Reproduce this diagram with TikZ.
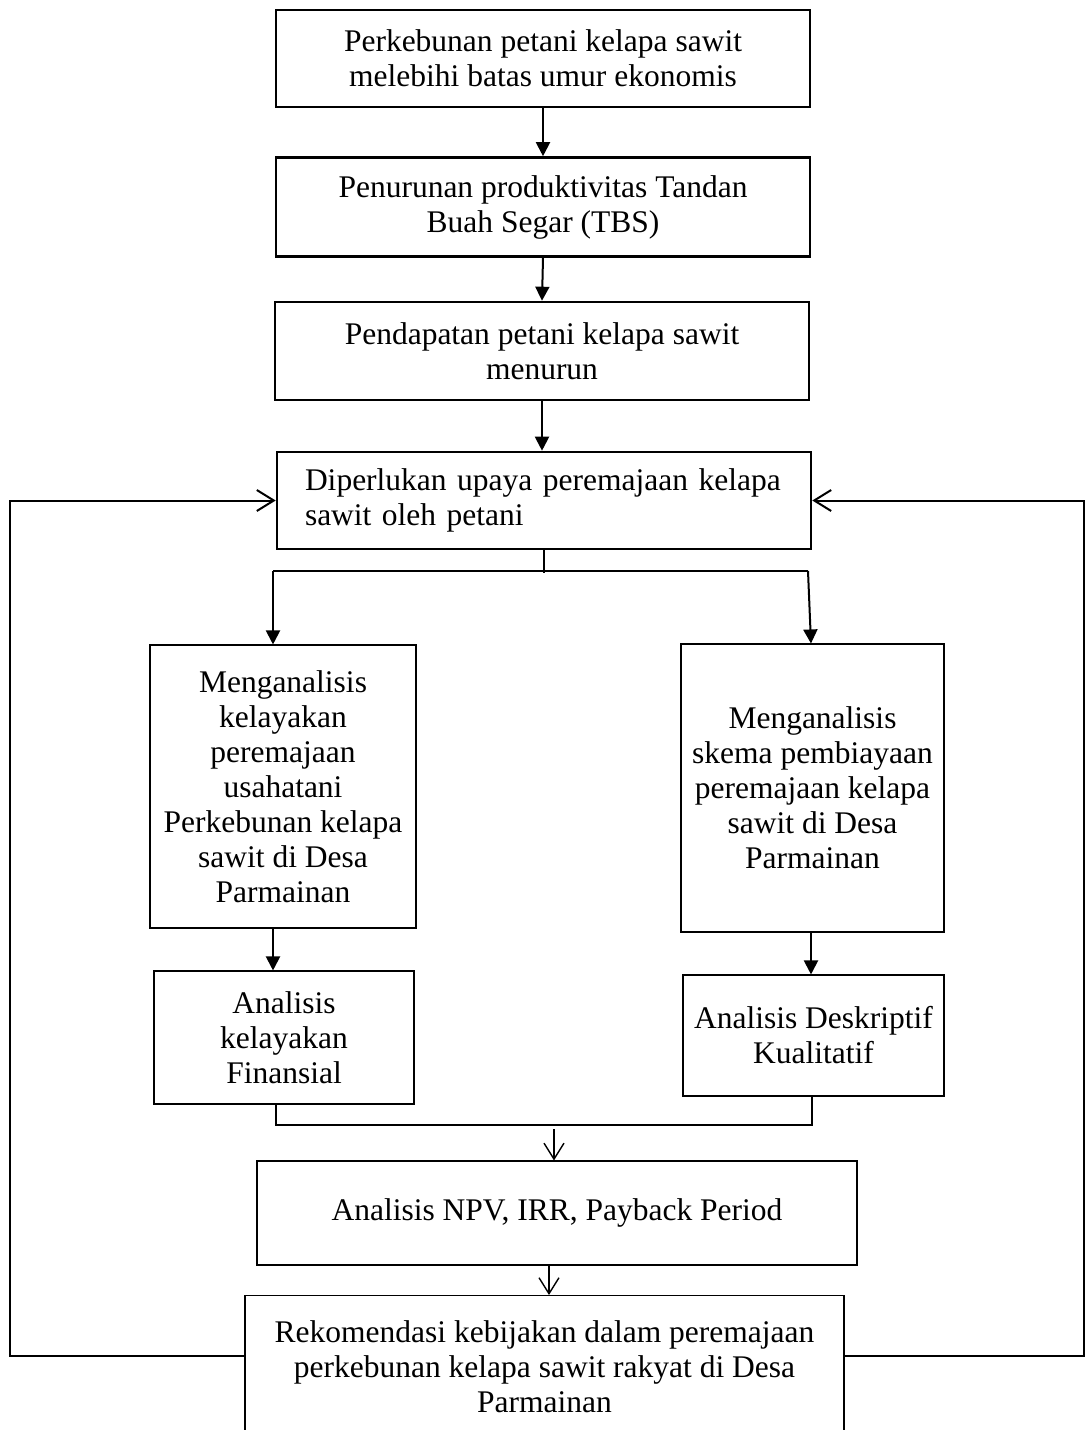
\documentclass[tikz,border=0pt]{standalone}
\usepackage{fontspec}
\setmainfont{Liberation Serif}
\usetikzlibrary{arrows.meta}
\begin{document}
\begin{tikzpicture}[x=1pt,y=-1pt,
  every node/.style={font=\fontsize{31.5}{35}\selectfont},
  topbox/.style={draw, line width=2.6pt, inner sep=0pt, align=center},
  lowbox/.style={draw, line width=1.1pt, inner sep=0pt, align=center},
  farrow/.style={line width=2pt, -{Triangle[length=14pt,width=14pt]}},
  oarrow/.style={line width=2pt, -{Straight Barb[length=17pt,width=21pt,line width=2pt]}},
  thinarrow/.style={line width=1.4pt, -{Straight Barb[length=16pt,width=20pt,line width=1.4pt]}},
  link/.style={line width=1.4pt}]
\clip (0,0) rectangle (1087,1430);
\fill[white] (0,0) rectangle (1087,1430);
% top chain
\node[topbox, minimum width=534, minimum height=97] (b1) at (543,58.5) {Perkebunan petani kelapa sawit\\melebihi batas umur ekonomis};
\node[topbox, minimum width=534, minimum height=99] (b2) at (543,207) {Penurunan produktivitas Tandan\\Buah Segar (TBS)};
\node[topbox, minimum width=534, minimum height=98] (b3) at (542,351) {Pendapatan petani kelapa sawit\\menurun};
\node[topbox, minimum width=534, minimum height=97, text width=478, align=left] (b4) at (544,500.5) {Diperlukan upaya peremajaan kelapa\\sawit oleh petani};
% middle boxes
\node[lowbox, minimum width=266, minimum height=283] (A) at (283,786.5) {Menganalisis\\kelayakan\\peremajaan\\usahatani\\Perkebunan kelapa\\sawit di Desa\\Parmainan};
\node[lowbox, minimum width=263, minimum height=288] (B) at (812.5,788) {Menganalisis\\skema pembiayaan\\peremajaan kelapa\\sawit di Desa\\Parmainan};
\node[lowbox, minimum width=260, minimum height=133] (C) at (284,1037.5) {Analisis\\kelayakan\\Finansial};
\node[lowbox, minimum width=261, minimum height=121] (D) at (813.5,1035.5) {Analisis Deskriptif\\Kualitatif};
\node[lowbox, minimum width=600, minimum height=104] (E) at (557,1213) {Analisis NPV, IRR, Payback Period};
\node[lowbox, minimum width=599, minimum height=180, anchor=north] (F) at (544.5,1295) {};
\node[align=center] (Ft) at (544.5,1367) {Rekomendasi kebijakan dalam peremajaan\\perkebunan kelapa sawit rakyat di Desa\\Parmainan};
% top arrows
\draw[farrow] (b1.south) -- (b2.north);
\draw[farrow] (b2.south) -- (b3.north);
\draw[farrow] (b3.south) -- (b3.south |- b4.north);
% split
\coordinate (sj) at (544,573);
\coordinate (sl) at (273,571);
\coordinate (sr) at (808,571);
\coordinate (bt) at (811,645);
\draw[line width=1.6pt] (b4.south) -- (sj);
\draw[line width=1.6pt] (sl) -- (sr);
\draw[farrow] (sl) -- (sl |- A.north);
\draw[farrow] (sr) -- (B.north -| bt);
\draw[farrow] (A.south -| sl) -- (C.north -| sl);
\draw[farrow] (B.south -| bt) -- (D.north -| bt);
% merge
\coordinate (ml) at (276,1125);
\coordinate (mr) at (812,1125);
\draw[link] (C.south -| ml) -- (ml) -- (mr) -- (D.south -| mr);
\coordinate (ma) at (554,1129);
\draw[thinarrow] (ma) -- (E.north -| ma);
\coordinate (ea) at (549,0);
\draw[thinarrow] (E.south -| ea) -- (F.north -| ea);
% feedback loops
\coordinate (fl) at (10,1356);
\coordinate (fr) at (1084,1356);
\draw[oarrow] (F.west |- fl) -- (fl) |- (b4.west);
\draw[oarrow] (F.east |- fr) -- (fr) |- (b4.east);
\end{tikzpicture}
\end{document}
